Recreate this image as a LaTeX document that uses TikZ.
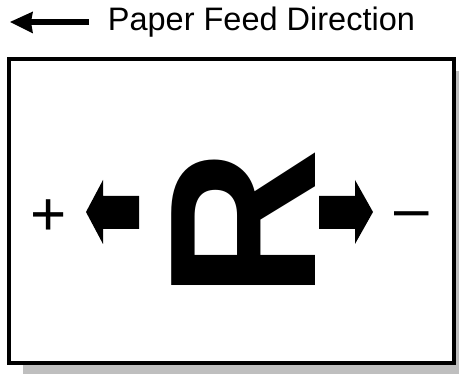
\documentclass[tikz,border=0pt]{standalone}
\usepackage{fontspec}
\setmainfont{Liberation Sans}
\tikzset{every picture/.style={line width=0.75pt}}
\tikzset{
  blockarrow/.style={fill=black, draw=none},
  signtext/.style={inner sep=0pt, anchor=base, font=\fontsize{62}{62}\selectfont},
}

\begin{document}
\begin{tikzpicture}[x=1pt, y=-1pt]
    \useasboundingbox (0,0) rectangle (459,374);
    \clip (0,0) rectangle (459,374);

    % 纸张阴影
    \fill[black!25] (23,71) rectangle (470,380);

    % 纸张
    \draw[line width=4.5pt, fill=white] (9,59) rectangle (454,363);

    % 进纸方向
    \node[inner sep=0pt, anchor=base west, font=\fontsize{32.5}{32.5}\selectfont] (feed) at (107.5,30.5) {Paper Feed Direction};
    \coordinate (feedtail) at (89,22);
    \coordinate (feedhead) at (31,22);
    \coordinate (feedtip) at (10,22);
    \draw[line width=6pt] (feedtail) -- (feedhead);
    \fill (feedtip) -- (33,11.5) -- (31,22) -- (33,33.5) -- cycle;

    % 字母 R
    \node[inner sep=0pt, rotate=90, anchor=base, font=\bfseries\fontsize{209}{209}\selectfont] (letter) at (315,224) {R};

    % 左右箭头
    \fill[blockarrow] (139,196) -- (103,196) -- (103,180) -- (86,212) -- (103,244) -- (103,229) -- (139,229) -- cycle;
    \fill[blockarrow] (319,196) -- (355,196) -- (355,180) -- (373,212) -- (355,244) -- (355,229) -- (319,229) -- cycle;

    % 标注
    \node[signtext] (plus) at (48.3,235.8) {+};
    \node[signtext] (minus) at (411.3,229.9) {\textendash};
\end{tikzpicture}
\end{document}
